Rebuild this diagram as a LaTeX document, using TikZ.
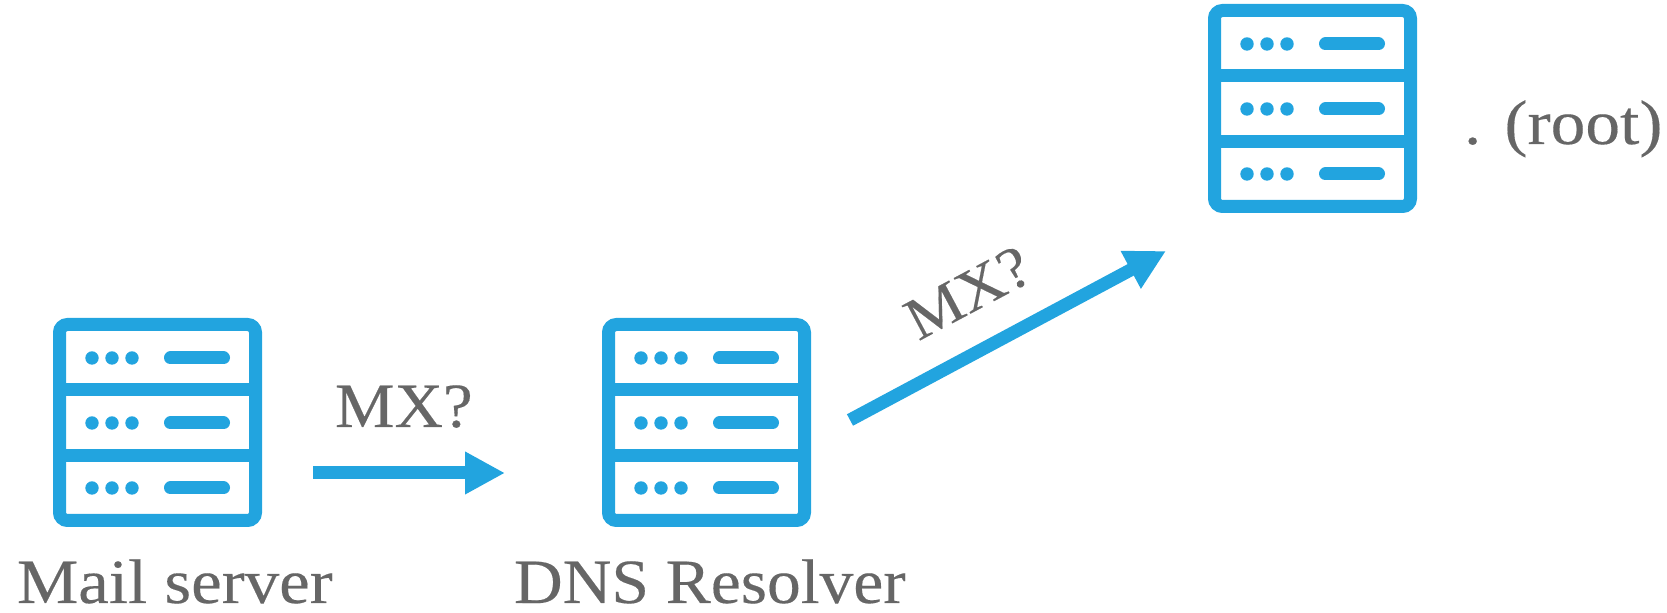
\documentclass[tikz,border=0pt]{standalone}
\usepackage{fontspec}
\usepackage{graphicx}
\setmainfont[FakeStretch=1.08,FakeBold=0.25]{Liberation Serif}
\usetikzlibrary{arrows.meta}
\definecolor{srvblue}{HTML}{22A4DF}
\definecolor{txtgray}{HTML}{666666}
\tikzset{
  x=0.5pt,y=-0.5pt,
  serverbox/.style={draw=srvblue,line width=6.5pt,rounded corners=4pt,fill=white,minimum width=98pt,minimum height=98pt,inner sep=0pt,outer sep=0pt,anchor=north west},
  divider/.style={draw=srvblue,line width=6.5pt},
  srvdot/.style={fill=srvblue},
  srvbar/.style={draw=srvblue,line width=6.5pt,line cap=round},
  flow/.style={draw=srvblue,line width=6.5pt,-{Triangle[length=20pt,width=20pt]}},
  label/.style={text=txtgray,font=\fontsize{31.5pt}{34pt}\selectfont,inner sep=0pt,outer sep=0pt},
}
% #1 name, #2 left, #3 top of the outer edge
\newcommand{\serverfig}[3]{%
  \node[serverbox] (#1) at (#2+6.5,#3+6.5) {};
  \begin{scope}[shift={(#2,#3)}]
    \draw[divider] (6,72) -- (203,72);
    \draw[divider] (6,138) -- (203,138);
    \foreach \yy in {40,105,170} {
      \foreach \xx in {39,59,79} { \fill[srvdot] (\xx,\yy) circle (3.35pt); }
      \draw[srvbar] (117.5,\yy) -- (170.5,\yy);
    }
  \end{scope}
}
\begin{document}
\begin{tikzpicture}
\useasboundingbox (0,0) rectangle (1667,613);
\serverfig{mail}{53}{318}
\serverfig{dns}{602}{318}
\serverfig{root}{1208}{4}
\node[label,anchor=base west] (lmail) at (17,603) {\scalebox{1.013}[1]{Mail server}};
\node[label,anchor=base west] (ldns) at (514,603) {\scalebox{0.992}[1]{DNS Resolver}};
\node[label,anchor=base west] (lroot) at (1464,144) {\scalebox{1.02}[1]{. (root)}};
\node[label,anchor=base west] (lq1) at (335,427) {\scalebox{0.985}[1]{MX?}};
\node[label,rotate=28] (lq2) at (968,293) {\scalebox{0.95}{MX?}};
\coordinate (a1s) at (313,473);
\coordinate (a1e) at (505,473);
\coordinate (a2s) at (850,420);
\coordinate (a2e) at (1166,251);
\draw[flow] (a1s) -- (a1e);
\draw[flow] (a2s) -- (a2e);
\end{tikzpicture}
\end{document}
